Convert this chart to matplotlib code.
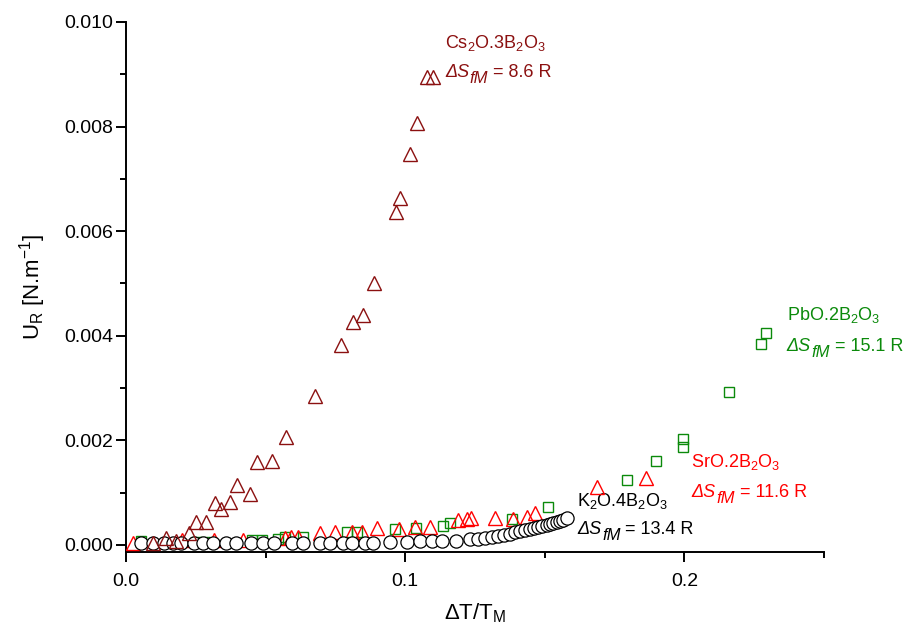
import numpy as np
import matplotlib
matplotlib.use("Agg")
import matplotlib.pyplot as plt
from matplotlib.ticker import MultipleLocator, FormatStrFormatter

plt.rcParams['font.family'] = ['Liberation Sans', 'DejaVu Sans']
plt.rcParams['mathtext.fontset'] = 'custom'
plt.rcParams['mathtext.rm'] = 'Liberation Sans'
plt.rcParams['mathtext.it'] = 'Liberation Sans:italic'
plt.rcParams['mathtext.default'] = 'regular'

# Cs2O.3B2O3 (dark red triangles)
cs_x = [0.0097, 0.0143, 0.0179, 0.0226, 0.0251, 0.0287, 0.0319, 0.0341, 0.0373,
        0.0398, 0.0444, 0.0470, 0.0523, 0.0573, 0.0677, 0.0771, 0.0814, 0.0849,
        0.0889, 0.0968, 0.0982, 0.1018, 0.1043, 0.1079, 0.1100]
cs_y = [0.00004, 0.00013, 0.00008, 0.00023, 0.00044, 0.00044, 0.00080, 0.00069, 0.00082,
        0.00115, 0.00098, 0.00159, 0.00161, 0.00207, 0.00285, 0.00382, 0.00426, 0.00440,
        0.00501, 0.00637, 0.00663, 0.00748, 0.00807, 0.00895, 0.00895]

# SrO.2B2O3 (red triangles)
sr_x = [0.0025, 0.0201, 0.0315, 0.0419, 0.0570, 0.0591, 0.0616, 0.0695, 0.0749,
        0.0810, 0.0846, 0.0900, 0.0978, 0.1036, 0.1090, 0.1190, 0.1222, 0.1237,
        0.1323, 0.1387, 0.1437, 0.1466, 0.1688, 0.1864]
sr_y = [0.00004, 0.00010, 0.00010, 0.00010, 0.00013, 0.00015, 0.00015, 0.00023, 0.00025,
        0.00025, 0.00025, 0.00033, 0.00031, 0.00034, 0.00034, 0.00048, 0.00050, 0.00052,
        0.00052, 0.00050, 0.00054, 0.00061, 0.00111, 0.00128]

# PbO.2B2O3 (green squares)
pb_x = [0.0054, 0.0251, 0.0283, 0.0452, 0.0487, 0.0545, 0.0570, 0.0634, 0.0792,
        0.0828, 0.0964, 0.1039, 0.1136, 0.1161, 0.1384, 0.1513, 0.1796, 0.1900,
        0.1996, 0.1996, 0.2158, 0.2276, 0.2294]
pb_y = [0.00008, 0.00006, 0.00006, 0.00010, 0.00010, 0.00011, 0.00015, 0.00015, 0.00025,
        0.00025, 0.00031, 0.00033, 0.00036, 0.00042, 0.00050, 0.00073, 0.00124, 0.00161,
        0.00187, 0.00203, 0.00293, 0.00384, 0.00405]

# K2O.4B2O3 (black circles)
k_x = [0.0054, 0.0097, 0.0136, 0.0168, 0.0197, 0.0244, 0.0276, 0.0312, 0.0358, 0.0394,
       0.0448, 0.0491, 0.0530, 0.0595, 0.0634, 0.0695, 0.0731, 0.0778, 0.0810, 0.0857,
       0.0885, 0.0946, 0.1007, 0.1054, 0.1097, 0.1133, 0.1183, 0.1233, 0.1262, 0.1287,
       0.1312, 0.1333, 0.1355, 0.1376, 0.1394, 0.1412, 0.1430, 0.1448, 0.1462, 0.1477,
       0.1491, 0.1509, 0.1520, 0.1530, 0.1545, 0.1556, 0.1566, 0.1581]
k_y = [0.00004, 0.00004, 0.00004, 0.00004, 0.00004, 0.00004, 0.00004, 0.00004, 0.00004, 0.00004,
       0.00004, 0.00004, 0.00004, 0.00004, 0.00004, 0.00004, 0.00004, 0.00004, 0.00004, 0.00004,
       0.00004, 0.00006, 0.00006, 0.00008, 0.00008, 0.00008, 0.00008, 0.00011, 0.00011, 0.00013,
       0.00015, 0.00017, 0.00019, 0.00021, 0.00025, 0.00027, 0.00029, 0.00031, 0.00033, 0.00034,
       0.00036, 0.00038, 0.00040, 0.00042, 0.00044, 0.00046, 0.00048, 0.00052]

DARKRED = '#8b1010'
RED = '#ff0000'
GREEN = '#0b8a0b'

fig = plt.figure(figsize=(9.05, 6.35), dpi=100)
ax = fig.add_axes([0.1392, 0.1307, 0.7713, 0.8347])

ax.plot(pb_x, pb_y, 's', ms=7, mfc='none', mec=GREEN, mew=1.0, zorder=3)
ax.plot(sr_x, sr_y, '^', ms=9.5, mfc='none', mec=RED, mew=1.0, zorder=4)
ax.plot(k_x, k_y, 'o', ms=9.5, mfc='white', mec='black', mew=0.9, zorder=5)
ax.plot(cs_x, cs_y, '^', ms=9.5, mfc='none', mec=DARKRED, mew=1.0, zorder=6)

fs = 13


def entropy_label(x, y, value, color):
    # italic "ΔS" + italic subscript "fM" + upright " = value"
    t1 = ax.text(x, y, 'ΔS', style='italic', color=color, fontsize=fs, va='center')
    t2 = ax.annotate('fM', xy=(1, 0), xycoords=t1, xytext=(0.5, -3.5),
                     textcoords='offset points', style='italic', color=color,
                     fontsize=fs * 0.92, va='bottom', ha='left')
    ax.annotate(' = ' + value, xy=(1, 0), xycoords=t2, xytext=(0, 3.5),
                textcoords='offset points', color=color, fontsize=fs,
                va='bottom', ha='left')


# labels next to each series
ax.text(0.1143, 0.00960, r'Cs$_2$O.3B$_2$O$_3$', color=DARKRED, fontsize=fs, va='center')
entropy_label(0.1143, 0.00903, '8.6 R', DARKRED)
ax.text(0.2366, 0.00440, r'PbO.2B$_2$O$_3$', color=GREEN, fontsize=fs, va='center')
entropy_label(0.2366, 0.00380, '15.1 R', GREEN)
ax.text(0.2025, 0.00158, r'SrO.2B$_2$O$_3$', color=RED, fontsize=fs, va='center')
entropy_label(0.2025, 0.00101, '11.6 R', RED)
ax.text(0.1616, 0.00085, r'K$_2$O.4B$_2$O$_3$', color='black', fontsize=fs, va='center')
entropy_label(0.1616, 0.00029, '13.4 R', 'black')

ax.set_xlim(0, 0.25)
ax.set_ylim(-0.000134, 0.010)
ax.xaxis.set_major_locator(MultipleLocator(0.1))
ax.xaxis.set_minor_locator(MultipleLocator(0.05))
ax.yaxis.set_major_locator(MultipleLocator(0.002))
ax.yaxis.set_minor_locator(MultipleLocator(0.001))
ax.xaxis.set_major_formatter(FormatStrFormatter('%.1f'))
ax.yaxis.set_major_formatter(FormatStrFormatter('%.3f'))

ax.spines['top'].set_visible(False)
ax.spines['right'].set_visible(False)
for s in ['left', 'bottom']:
    ax.spines[s].set_linewidth(1.4)
ax.tick_params(which='major', direction='out', length=7, width=1.4, labelsize=14)
ax.tick_params(which='minor', direction='out', length=4, width=1.4)
ax.tick_params(axis='x', pad=8)
ax.tick_params(axis='y', pad=2)

ax.set_xlabel(r'$\Delta$T/T$_M$', fontsize=16, labelpad=8)
ax.set_ylabel(r'U$_R$ [N.m$^{-1}$]', fontsize=16, labelpad=12)

fig.savefig('out.png', dpi=100)
